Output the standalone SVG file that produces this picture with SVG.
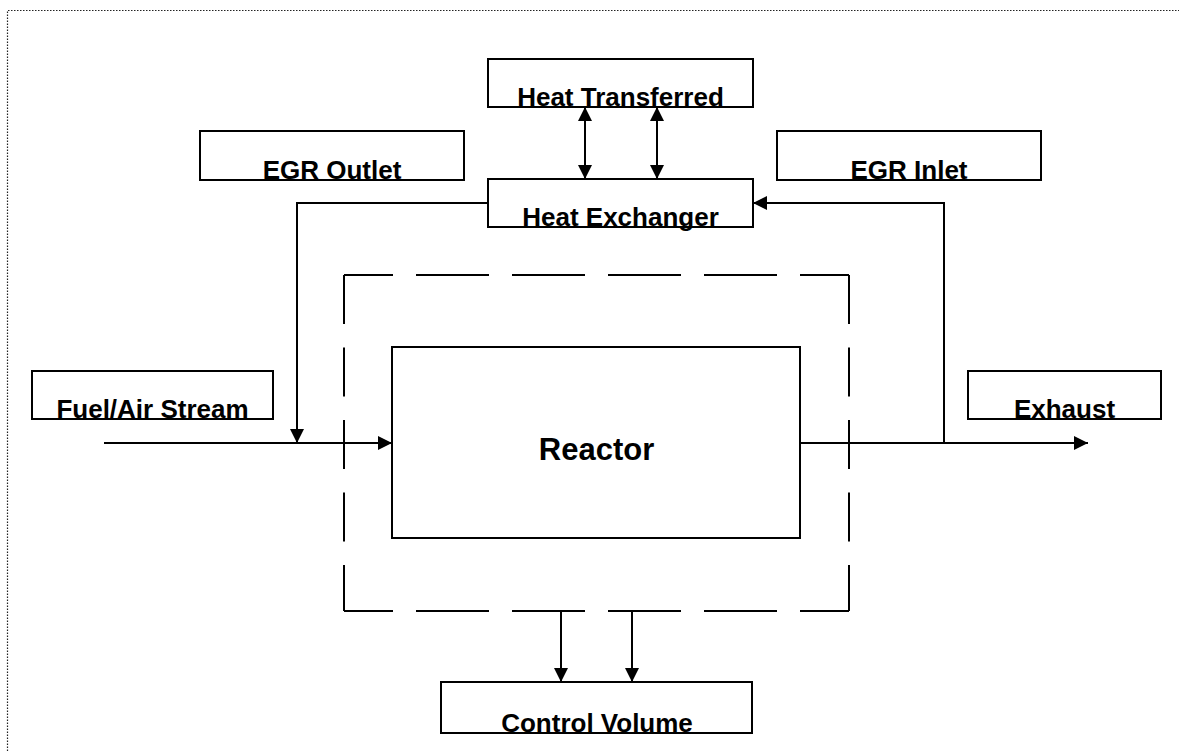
<svg xmlns="http://www.w3.org/2000/svg" width="1179" height="752" viewBox="0 0 1179 752">
<style>
.box{fill:#fff;stroke:#000;stroke-width:2}
.lbl{font-family:"Liberation Sans",Arial,sans-serif;font-weight:bold;font-size:26px;fill:#000;text-anchor:middle}
.con{fill:none;stroke:#000;stroke-width:2}
.dh{fill:none;stroke:#000;stroke-width:2;stroke-dasharray:73 23;stroke-dashoffset:24}
.dv{fill:none;stroke:#000;stroke-width:2;stroke-dasharray:49 23.5}
</style>
<defs>
<marker id="ah" markerUnits="userSpaceOnUse" markerWidth="14" markerHeight="14" refX="14" refY="7" orient="auto-start-reverse" viewBox="0 0 14 14">
<path d="M0,0 L14,7 L0,14 z" fill="#000"/>
</marker>
</defs>
<rect width="1179" height="752" fill="#fff"/>
<path d="M7.5,760 V10.5 H1190" fill="none" stroke="#222" stroke-width="1.2" stroke-dasharray="1.5 1.5"/>
<g id="control-boundary">
<line class="dh" x1="344" y1="275" x2="849" y2="275"/>
<line class="dh" x1="344" y1="611" x2="849" y2="611"/>
<line class="dv" x1="344" y1="275" x2="344" y2="611"/>
<line class="dv" x1="849" y1="275" x2="849" y2="611"/>
</g>
<g id="connectors">
<line class="con" x1="585" y1="107" x2="585" y2="179" marker-start="url(#ah)" marker-end="url(#ah)"/>
<line class="con" x1="657" y1="107" x2="657" y2="179" marker-start="url(#ah)" marker-end="url(#ah)"/>
<path class="con" d="M488,203 H297 V443" marker-end="url(#ah)"/>
<path class="con" d="M944,443 V203 H753" marker-end="url(#ah)"/>
<line class="con" x1="104" y1="443" x2="392" y2="443" marker-end="url(#ah)"/>
<line class="con" x1="800" y1="443" x2="1088" y2="443" marker-end="url(#ah)"/>
<line class="con" x1="561" y1="611" x2="561" y2="682" marker-end="url(#ah)"/>
<line class="con" x1="632" y1="611" x2="632" y2="682" marker-end="url(#ah)"/>
</g>
<g id="heat-transferred">
<rect class="box" x="488" y="59" width="265" height="48"/>
<text class="lbl" x="620.5" y="106">Heat Transferred</text>
</g>
<g id="egr-outlet">
<rect class="box" x="200" y="131" width="264" height="49"/>
<text class="lbl" x="332" y="179">EGR Outlet</text>
</g>
<g id="egr-inlet">
<rect class="box" x="777" y="131" width="264" height="49"/>
<text class="lbl" x="909" y="179">EGR Inlet</text>
</g>
<g id="heat-exchanger">
<rect class="box" x="488" y="179" width="265" height="48"/>
<text class="lbl" x="620.5" y="226">Heat Exchanger</text>
</g>
<g id="fuel-air">
<rect class="box" x="32" y="371" width="241" height="48"/>
<text class="lbl" x="152.5" y="418">Fuel/Air Stream</text>
</g>
<g id="exhaust">
<rect class="box" x="968" y="371" width="193" height="48"/>
<text class="lbl" x="1064.5" y="418">Exhaust</text>
</g>
<g id="reactor">
<rect class="box" x="392" y="347" width="408" height="191"/>
<text class="lbl" x="596.5" y="460" style="font-size:31px">Reactor</text>
</g>
<g id="control-volume">
<rect class="box" x="441" y="682" width="311" height="51"/>
<text class="lbl" x="597" y="732">Control Volume</text>
</g>
</svg>
